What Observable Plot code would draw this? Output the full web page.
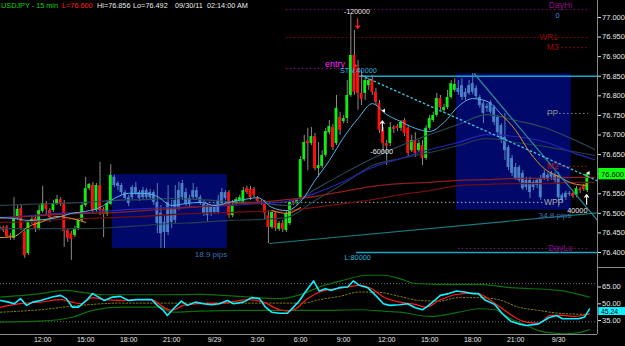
<!DOCTYPE html>
<html><head><meta charset="utf-8">
<script src="https://cdn.jsdelivr.net/npm/d3@7"></script>
<script src="https://cdn.jsdelivr.net/npm/@observablehq/plot@0.6"></script>
<style>
html,body{margin:0;padding:0;background:#000;}
#wrap{position:relative;width:625px;height:346px;background:#000;overflow:hidden;font-family:"Liberation Sans",Arial,sans-serif;}
#wrap svg{position:absolute;left:0;overflow:visible;}
.hd{position:absolute;top:1px;font-size:7.3px;line-height:9px;white-space:pre;}
</style></head><body><div id="wrap">
<span class="hd" style="left:1px;color:#10d010">USDJPY - 15 min</span>
<span class="hd" style="left:62px;color:#ff2020">L=76.600</span>
<span class="hd" style="left:97px;color:#e8e8e8">Hi=76.856</span>
<span class="hd" style="left:133px;color:#e8e8e8">Lo=76.492</span>
<span class="hd" style="left:175px;color:#e8e8e8">09/30/11  02:14:00 AM</span>
</div>
<script>
// ---------- DATA ----------
const open = [76.459,76.464,76.464,76.443,76.436,76.487,76.512,76.451,76.397,76.477,
76.487,76.461,76.505,76.525,76.507,76.507,76.525,76.535,76.525,76.456,
76.448,76.443,76.461,76.482,76.520,76.563,76.571,76.507,76.571,76.510,
76.497,76.523,76.592,76.576,76.571,76.553,76.540,76.540,76.566,76.553,
76.540,76.558,76.540,76.553,76.528,76.500,76.451,76.451,76.512,76.482,
76.515,76.540,76.553,76.538,76.540,76.558,76.540,76.523,76.520,76.515,
76.515,76.502,76.525,76.553,76.553,76.494,76.525,76.533,76.528,76.563,
76.561,76.561,76.538,76.530,76.525,76.494,76.464,76.500,76.459,76.474,
76.456,76.474,76.530,76.525,76.540,76.637,76.684,76.678,76.696,76.614,
76.620,76.648,76.706,76.719,76.678,76.745,76.734,76.742,76.801,76.903,
76.870,76.806,76.806,76.826,76.842,76.809,76.780,76.712,76.678,76.678,
76.719,76.722,76.717,76.737,76.717,76.660,76.686,76.660,76.673,76.640,
76.717,76.737,76.750,76.793,76.763,76.770,76.796,76.814,76.819,76.826,
76.809,76.806,76.809,76.819,76.796,76.780,76.768,76.758,76.770,76.745,
76.724,76.694,76.668,76.640,76.617,76.617,76.602,76.584,76.584,76.579,
76.584,76.589,76.589,76.597,76.602,76.597,76.597,76.546,76.551,76.548,
76.551,76.546,76.561,76.569,76.558];
const high = [76.469,76.467,76.469,76.448,76.540,76.520,76.520,76.456,76.482,76.492,
76.494,76.520,76.569,76.530,76.512,76.533,76.546,76.540,76.533,76.461,
76.454,76.467,76.487,76.525,76.592,76.576,76.579,76.576,76.630,76.515,
76.533,76.624,76.597,76.581,76.576,76.558,76.546,76.571,76.579,76.558,
76.566,76.563,76.561,76.558,76.576,76.520,76.494,76.571,76.533,76.571,
76.579,76.584,76.563,76.546,76.576,76.566,76.546,76.533,76.525,76.520,
76.523,76.546,76.563,76.558,76.558,76.533,76.540,76.546,76.566,76.569,
76.569,76.566,76.543,76.535,76.533,76.507,76.507,76.505,76.479,76.482,
76.505,76.533,76.535,76.538,76.645,76.699,76.717,76.719,76.704,76.681,
76.660,76.717,76.737,76.727,76.801,76.758,76.750,76.839,77.008,76.967,
76.890,76.865,76.852,76.844,76.852,76.819,76.788,76.719,76.686,76.732,
76.724,76.727,76.737,76.742,76.724,76.699,76.706,76.686,76.686,76.724,
76.750,76.758,76.806,76.801,76.778,76.814,76.839,76.844,76.839,76.844,
76.819,76.839,76.857,76.826,76.801,76.788,76.780,76.788,76.775,76.750,
76.729,76.755,76.673,76.648,76.627,76.622,76.609,76.592,76.592,76.584,
76.589,76.597,76.609,76.604,76.607,76.604,76.604,76.551,76.556,76.556,
76.553,76.569,76.566,76.574,76.604];
const low = [76.454,76.451,76.436,76.431,76.431,76.482,76.456,76.385,76.392,76.472,
76.451,76.456,76.500,76.494,76.477,76.502,76.520,76.517,76.413,76.426,
76.380,76.438,76.456,76.477,76.515,76.558,76.500,76.502,76.494,76.438,
76.492,76.520,76.566,76.558,76.546,76.533,76.517,76.535,76.546,76.530,
76.535,76.533,76.533,76.520,76.448,76.410,76.410,76.443,76.461,76.474,
76.507,76.533,76.517,76.512,76.535,76.533,76.520,76.492,76.477,76.492,
76.497,76.497,76.520,76.533,76.487,76.489,76.520,76.525,76.523,76.548,
76.533,76.540,76.525,76.520,76.482,76.423,76.459,76.454,76.454,76.451,
76.451,76.469,76.520,76.520,76.535,76.632,76.609,76.673,76.609,76.592,
76.614,76.643,76.701,76.660,76.673,76.699,76.729,76.729,76.796,76.801,
76.763,76.775,76.788,76.814,76.801,76.775,76.704,76.655,76.622,76.671,
76.704,76.709,76.709,76.696,76.643,76.655,76.643,76.655,76.622,76.635,
76.712,76.732,76.745,76.763,76.758,76.765,76.791,76.809,76.801,76.788,
76.788,76.801,76.803,76.791,76.768,76.729,76.758,76.753,76.724,76.699,
76.678,76.635,76.609,76.594,76.584,76.579,76.558,76.558,76.538,76.558,
76.563,76.533,76.584,76.581,76.584,76.576,76.515,76.525,76.533,76.543,
76.538,76.540,76.551,76.556,76.553];
const close = [76.464,76.456,76.441,76.438,76.487,76.510,76.461,76.392,76.477,76.484,
76.461,76.507,76.525,76.510,76.489,76.525,76.535,76.525,76.454,76.436,
76.433,76.461,76.482,76.520,76.563,76.574,76.507,76.571,76.507,76.497,
76.525,76.597,76.571,76.569,76.553,76.538,76.525,76.566,76.551,76.538,
76.558,76.540,76.553,76.528,76.474,76.448,76.477,76.528,76.477,76.533,
76.558,76.576,76.525,76.525,76.558,76.540,76.525,76.500,76.494,76.500,
76.502,76.533,76.553,76.538,76.494,76.520,76.535,76.540,76.558,76.553,
76.540,76.546,76.530,76.525,76.500,76.464,76.502,76.461,76.474,76.459,
76.500,76.528,76.525,76.533,76.637,76.681,76.678,76.696,76.614,76.622,
76.648,76.709,76.722,76.668,76.768,76.712,76.742,76.801,76.903,76.809,
76.806,76.791,76.839,76.839,76.809,76.783,76.712,76.678,76.671,76.719,
76.714,76.717,76.732,76.704,76.653,76.686,76.653,76.678,76.640,76.717,
76.742,76.750,76.793,76.770,76.770,76.796,76.831,76.829,76.809,76.796,
76.796,76.826,76.831,76.798,76.775,76.755,76.773,76.783,76.732,76.706,
76.686,76.660,76.617,76.602,76.589,76.584,76.563,76.566,76.553,76.566,
76.571,76.540,76.602,76.589,76.592,76.584,76.540,76.533,76.540,76.551,
76.543,76.563,76.558,76.561,76.600];

// time axis (bar index 0 = 9/28 09:00, 15-min bars)
const timeK = [12,24,36,48,60,72,84,96,108,120,132,144,156];
const timeLabels = ["12:00","15:00","18:00","21:00","9/29","3:00","6:00","9:00","12:00","15:00","18:00","21:00","9/30"];
const priceTicks = [76.40,76.45,76.50,76.55,76.60,76.65,76.70,76.75,76.80,76.85,76.90,76.95,77.00];
const rsiTicks = [35,50,65];

// range boxes
const boxFrom = [31.5,127.5], boxTo = [63.5,159.5];
const boxTop = [76.599,76.856], boxBottom = [76.410,76.508];
const boxLabel = ["18.9 pips","34.8 pips"];

// moving averages (sampled every 8 bars)
const maK = [0,8,16,24,32,40,48,56,64,72,80,88,96,104,112,120,128,136,144,152,160,166];
const slateA = [76.520,76.523,76.525,76.528,76.533,76.535,76.538,76.535,76.530,76.528,76.520,76.561,76.602,76.640,76.673,76.701,76.727,76.752,76.737,76.719,76.689,76.663];
const slateB = [76.461,76.461,76.461,76.461,76.464,76.469,76.474,76.477,76.482,76.484,76.489,76.533,76.576,76.622,76.640,76.655,76.673,76.691,76.681,76.671,76.658,76.648];
const blueMA = [76.489,76.494,76.500,76.502,76.507,76.512,76.515,76.517,76.520,76.525,76.530,76.551,76.581,76.617,76.640,76.663,76.681,76.701,76.696,76.683,76.655,76.637];
const redMA1 = [76.487,76.492,76.497,76.500,76.502,76.507,76.512,76.517,76.523,76.528,76.535,76.543,76.556,76.569,76.576,76.579,76.584,76.586,76.589,76.589,76.592,76.592];
const redMA2 = [76.477,76.479,76.484,76.487,76.489,76.492,76.497,76.500,76.502,76.505,76.507,76.515,76.525,76.535,76.548,76.558,76.571,76.574,76.576,76.576,76.579,76.579];
// fast average (every 4 bars), light blue and orange parts
const fastK = d3.range(0,165,4);
const fastBlue = [76.489,76.487,76.482,76.484,76.489,76.500,76.505,76.515,76.538,76.551,76.551,76.543,76.520,76.525,76.528,76.520,76.528,76.535,76.540,76.515,76.507,76.530,76.584,76.635,76.694,76.742,76.780,76.752,76.734,76.717,76.709,76.732,76.773,76.793,76.786,76.752,null,null,null,null,null,null];
const fastOrange = [76.438,76.441,76.466,76.479,76.492,76.487,76.477,null,null,null,null,null,null,null,null,null,null,null,null,76.507,76.500,76.515,null,null,null,null,null,null,null,null,null,null,null,null,null,76.752,76.712,76.655,76.614,76.594,76.576,76.571];

// trend lines
const trendNames = ["base","fall","dash"];
const trendK1 = [75.2,132.4,100.9], trendP1 = [76.423,76.857,76.852];
const trendK2 = [166.84,166.84,166.84], trendP2 = [76.501,76.482,76.583];

// horizontal levels
const levelNames = ["DayHi","WR1","M3","entry","PP","M2","WPP","DayLo"];
const levelPrice = [77.020,76.949,76.923,76.870,76.755,76.620,76.528,76.410];
const levelFrom = [80,80,155.7,80,152.9,155.7,57.4,128.0];
const levelTo = [164.9,164.3,164.3,99.3,164.3,164.3,152.3,164.3];
const levelLabelK = [156.5,153.2,154.3,null,154.3,154.3,154.6,156.5];
const levelLabelP = [77.031,76.949,76.923,null,76.755,76.620,76.528,76.410];
const levelText = ["DayHi","WR1","M3",null,"PP","M2","WPP","DayLo"];

// order lines
const orderPrice = [76.850,76.400];
const orderFrom = [99.6,99.6];

// notes
const noteText = ["-120000","entry","STN:40000","-60000","40000","L:80000","0"];
const noteK = [99.7,93.6,100.1,106.6,161.2,99.9,155.7];
const notePrice = [77.015,76.880,76.865,76.658,76.507,76.386,77.004];

// arrows and markers
const arrowK = [99.9,106.8,163.8];
const arrowFrom = [76.997,76.711,76.523];
const arrowTo = [76.972,76.736,76.548];
const markK = [99.3,107.2,164.3];
const markPrice = [76.877,76.762,76.603];

// indicator panel
const rsiK = [0.2,2.5,4.1,5.8,7.5,9.2,11.4,13.1,14.7,17.0,18.6,20.3,22.0,24.2,25.9,27.6,29.2,31.5,33.7,35.9,38.2,40.1,42.4,44.0,45.7,46.8,48.5,50.7,52.4,54.6,56.9,59.1,61.3,63.6,65.3,68.0,70.3,72.5,74.2,75.9,78.1,80.3,82.0,83.7,85.3,87.6,89.2,90.9,92.6,94.8,97.1,98.7,100.4,102.7,104.9,107.1,108.8,111.6,113.8,116.0,118.0,119.1,121.4,123.0,125.3,127.5,129.7,132.0,133.6,135.3,138.1,140.3,142.6,144.8,147.0,150.4,153.2,155.4,157.1,159.3,161.5,163.2,164.6];
const rsiV = [53.0,51.5,50.1,54.6,48.6,51.5,53.0,54.6,56.0,57.5,54.6,47.0,47.0,53.0,59.1,56.0,53.0,56.0,56.6,53.0,53.7,53.7,53.7,48.6,44.1,39.6,45.6,52.4,48.6,51.5,50.1,49.2,50.1,53.0,50.1,51.5,55.5,54.6,47.0,42.5,41.6,41.6,47.0,53.0,60.5,70.4,61.4,63.5,62.0,64.4,65.0,70.4,66.5,64.4,57.5,50.1,48.6,49.2,50.1,46.5,44.7,47.0,53.0,57.5,59.1,61.4,60.5,59.1,59.1,53.7,49.5,41.1,34.5,32.1,30.6,32.1,37.5,39.6,36.6,36.6,36.6,38.1,45.24];
const sigK = [0.2,5.8,11.4,17.0,20.3,22.5,25.9,29.2,33.7,38.2,42.4,45.7,48.0,51.3,55.8,62.5,69.2,73.6,78.1,80.3,82.6,85.9,89.2,93.7,98.2,100.4,103.8,107.1,111.6,116.0,119.1,122.5,127.0,131.4,133.6,137.0,140.3,143.7,147.0,150.4,153.7,157.1,160.4,164.6];
const sigV = [47.0,50.1,51.5,53.7,51.5,50.1,55.5,53.7,53.0,53.7,53.7,47.0,44.1,48.6,50.1,50.6,53.7,51.5,44.7,43.4,45.6,54.6,60.5,63.5,65.6,66.5,63.5,56.0,51.5,49.5,47.0,53.0,58.1,59.6,59.1,53.0,45.6,38.1,33.6,32.7,39.6,39.6,38.7,41.1];
const upK = [0.2,11.4,18.0,22.5,29.2,44.7,55.8,67.0,78.1,84.8,89.2,95.9,102.6,107.1,111.6,116.0,122.5,133.6,142.6,155.9,164.6];
const upV = [56.0,59.1,62.0,60.5,58.1,58.1,58.4,56.6,54.6,59.1,65.0,71.0,75.5,75.5,72.5,68.1,67.4,67.4,64.4,62.0,56.0];
const loK = [0.2,11.4,20.3,25.9,33.7,44.7,48.0,55.8,67.0,78.1,89.2,100.4,107.1,111.6,120.2,128.1,133.6,138.1,142.6,147.0,150.4,154.0,158.0,162.0,164.6];
const loV = [33.6,34.5,38.0,44.1,47.0,47.0,42.5,43.4,44.1,44.1,44.1,44.7,43.4,42.5,38.7,42.5,45.6,44.7,36.6,30.6,26.1,24.0,23.2,24.5,27.0];
const midK = [0.2,11.4,22.5,33.7,84.8,89.2,94.8,100.4,105.9,111.6,117.0,122.5,128.1,133.6,139.2,144.8,150.4,155.9,164.6];
const midV = [42.5,44.7,48.6,50.6,50.6,53.7,56.6,60.5,60.2,56.6,53.0,52.4,55.5,55.5,53.7,47.0,44.1,41.6,40.5];
const rsiLevels = [68,34];

// ---------- BUILD ----------
const XMIN = 0.223, XMAX = 166.84;
const PMIN = 76.3617, PMAX = 77.0434;
const font = "Liberation Sans, Arial, sans-serif";

const bars = open.map((o,i)=>({k:i,o,h:high[i],l:low[i],c:close[i],
  box: boxFrom.some((f,j)=> i>f && i<boxTo[j])}));
const boxes = boxFrom.map((f,i)=>({from:f,to:boxTo[i],top:boxTop[i],bottom:boxBottom[i],label:boxLabel[i]}));
const series = (ks, vs) => ks.map((k,i)=>({k, v: vs[i]}));
const levels = levelNames.map((n,i)=>({name:n,price:levelPrice[i],from:levelFrom[i],to:levelTo[i],lk:levelLabelK[i],lp:levelLabelP[i],text:levelText[i]}));
const levelColor = {DayHi:"#8a108a",WR1:"#8a0a0a",M3:"#a00a0a",entry:"#9a109a",PP:"#8a8a8a",M2:"#b81010",WPP:"#a8a8a8",DayLo:"#8a108a"};
const trends = trendNames.map((n,i)=>({n,x1:trendK1[i],y1:trendP1[i],x2:trendK2[i],y2:trendP2[i]}));
const trendColor = {base:"#1a7a82",fall:"#2a8c9a",dash:"#3cc8e6"};
const notes = noteText.map((t,i)=>({t,k:noteK[i],p:notePrice[i]}));
const noteStyle = {"-120000":["#e8e8e8","middle",7],"entry":["#ff20ff","middle",9],"STN:40000":["#20b8e0","start",7.3],"-60000":["#e8e8e8","middle",7.3],"40000":["#e8e8e8","start",7.3],"L:80000":["#20b8e0","start",7.3],"0":["#3a8ae0","middle",7.5]};
const arrows = arrowK.map((k,i)=>({k,a:arrowFrom[i],b:arrowTo[i],down:arrowTo[i]<arrowFrom[i]}));
const marks = markK.map((k,i)=>({k,p:markPrice[i],first:i===0}));

const lastPrice = close[close.length-1];
const lastRsi = rsiV[rsiV.length-1];

const pricePlot = Plot.plot({
  width:625, height:267, margin:0, marginRight:28,
  x:{domain:[XMIN,XMAX], axis:null}, y:{domain:[PMIN,PMAX]},
  style:{background:"transparent", color:"#e6e6e6", fontFamily:font, fontSize:"7.5px", overflow:"visible"},
  marks:[
    Plot.rect(boxes,{x1:"from",x2:"to",y1:"bottom",y2:"top",fill:"#00096a"}),
    Plot.ruleY(levels,{y:"price",x1:"from",x2:"to",stroke:d=>levelColor[d.name],strokeDasharray:"1.5,2.5",strokeWidth:1}),
    Plot.ruleY(orderPrice,{y:d=>d,x1:(d,i)=>orderFrom[i],x2:XMAX,stroke:"#1aa8c8",strokeWidth:1.5}),
    // candles
    Plot.ruleX(bars,{x:"k",y1:"l",y2:"h",stroke:d=>d.box?"#5a7db0":"#8a8a8a",strokeWidth:1}),
    Plot.rect(bars,{x1:d=>d.k-0.4,x2:d=>d.k+0.4,y1:d=>Math.min(d.o,d.c),y2:d=>Math.max(d.o,d.c,Math.min(d.o,d.c)+0.0028),
      fill:d=>d.box?"#4a80c8":(d.c>=d.o?"#10ee10":"#ff1010")}),
    // averages
    Plot.line(series(maK,slateB),{x:"k",y:"v",stroke:"#22404c",strokeWidth:1.1,curve:"monotone-x"}),
    Plot.line(series(maK,slateA),{x:"k",y:"v",stroke:"#2c4a58",strokeWidth:1.1,curve:"monotone-x"}),
    Plot.line(series(maK,blueMA),{x:"k",y:"v",stroke:"#2626b4",strokeWidth:1.1,curve:"monotone-x"}),
    Plot.line(series(maK,redMA2),{x:"k",y:"v",stroke:"#6e1010",strokeWidth:1.3,curve:"monotone-x"}),
    Plot.line(series(maK,redMA1),{x:"k",y:"v",stroke:"#8e1e1e",strokeWidth:1.3,curve:"monotone-x"}),
    Plot.line(series(fastK,fastOrange),{x:"k",y:"v",stroke:"#e0902a",strokeWidth:1,curve:"monotone-x"}),
    Plot.line(series(fastK,fastBlue),{x:"k",y:"v",stroke:"#52b2e8",strokeWidth:1,curve:"monotone-x"}),
    // trend lines
    Plot.link(trends.filter(d=>d.n!=="dash"),{x1:"x1",y1:"y1",x2:"x2",y2:"y2",stroke:d=>trendColor[d.n],strokeWidth:1.2}),
    Plot.link(trends.filter(d=>d.n==="dash"),{x1:"x1",y1:"y1",x2:"x2",y2:"y2",stroke:trendColor.dash,strokeWidth:1.3,strokeDasharray:"2.5,2"}),
    // arrows and small markers
    Plot.arrow(arrows,{x1:"k",y1:"a",x2:"k",y2:"b",stroke:d=>d.down?"#ff2020":"#f0f0f0",strokeWidth:1.2,headLength:4,headAngle:70}),
    Plot.dot(marks,{x:"k",y:"p",symbol:"triangle2",r:2,rotate:d=>d.first?90:-90,fill:d=>d.first?"#ff2020":"#f0f0f0",stroke:"none"}),
    // texts
    Plot.text(notes,{x:"k",y:"p",text:"t",fill:d=>noteStyle[d.t][0],textAnchor:d=>noteStyle[d.t][1],fontSize:d=>noteStyle[d.t][2]}),
    Plot.text(levels.filter(d=>d.text),{x:"lk",y:"lp",text:"text",fill:d=>levelColor[d.name],fontSize:8.5}),
    Plot.text(boxes,{x:"to",y:"bottom",text:"label",fill:"#3a70b8",textAnchor:"end",dy:5.5,fontSize:8}),
    // axis
    Plot.ruleX([XMAX],{stroke:"#8a8a8a"}),
    Plot.ruleY([PMIN],{x1:XMAX,x2:XMAX+8,stroke:"#8a8a8a"}),
    Plot.axisY({anchor:"right",ticks:priceTicks,tickFormat:d=>d.toFixed(3),tickSize:3,tickPadding:1.5,label:null,color:"#e6e6e6",fontSize:7.5}),
    Plot.rect([lastPrice],{x1:XMAX+0.35,x2:XMAX+8,y1:d=>d-0.0145,y2:d=>d+0.0145,fill:"#10ff10"}),
    Plot.text([lastPrice],{x:XMAX+1.0,y:d=>d,text:d=>d.toFixed(3),fill:"#000",textAnchor:"start",fontSize:7.5})
  ]
});
pricePlot.style.top = "0px";

const indPlot = Plot.plot({
  width:625, height:79, margin:0, marginRight:28, marginBottom:12,
  x:{domain:[XMIN,XMAX]}, y:{domain:[22.6,82.4]},
  style:{background:"transparent", color:"#e6e6e6", fontFamily:font, fontSize:"7px", overflow:"visible"},
  marks:[
    Plot.ruleY(rsiLevels,{stroke:"#6a6a6a",strokeDasharray:"1,2"}),
    Plot.line(series(upK,upV),{x:"k",y:"v",stroke:"#0c700c",strokeWidth:1.2,curve:"monotone-x"}),
    Plot.line(series(loK,loV),{x:"k",y:"v",stroke:"#0c700c",strokeWidth:1.2,curve:"monotone-x"}),
    Plot.line(series(midK,midV),{x:"k",y:"v",stroke:"#8c8a10",strokeWidth:1,strokeDasharray:"1.5,2",curve:"monotone-x"}),
    Plot.line(series(sigK,sigV),{x:"k",y:"v",stroke:"#ff1a1a",strokeWidth:1.2,curve:"monotone-x"}),
    Plot.line(series(rsiK,rsiV),{x:"k",y:"v",stroke:"#10f0ff",strokeWidth:1.6}),
    Plot.ruleY([22.6],{stroke:"#8a8a8a"}),
    Plot.ruleX([XMAX],{stroke:"#8a8a8a"}),
    Plot.axisY({anchor:"right",ticks:rsiTicks,tickFormat:d=>d.toFixed(2),tickSize:3,tickPadding:1.5,label:null,color:"#e6e6e6",fontSize:7.5}),
    Plot.axisX({anchor:"bottom",ticks:timeK,tickFormat:d=>timeLabels[timeK.indexOf(d)],tickSize:0,tickPadding:3,label:null,color:"#e6e6e6",fontSize:7}),
    Plot.rect([lastRsi],{x1:XMAX+0.35,x2:XMAX+8,y1:d=>d-5.7,y2:d=>d+1.4,fill:"#10f0ff"}),
    Plot.text([lastRsi],{x:XMAX+1.0,y:d=>d-2.2,text:d=>d.toFixed(2),fill:"#000",textAnchor:"start",fontSize:6.8})
  ]
});
indPlot.style.top = "267px";

const wrap = document.getElementById("wrap");
wrap.insertBefore(indPlot, wrap.firstChild);
wrap.insertBefore(pricePlot, wrap.firstChild);
</script>
</body></html>
